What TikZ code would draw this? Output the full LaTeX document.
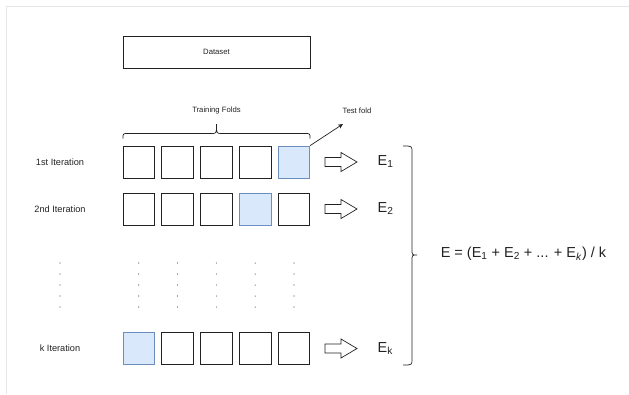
\documentclass[tikz,border=0pt]{standalone}
\usepackage{fontspec}
\setmainfont{Liberation Sans}
\usetikzlibrary{arrows.meta}
\definecolor{foldfill}{HTML}{DAE8FC}
\definecolor{folddraw}{HTML}{6C8EBF}
\definecolor{framegray}{HTML}{E6E6E6}
\definecolor{ink}{HTML}{222222}
\tikzset{
  fold/.style={draw=ink, line width=0.8pt, minimum width=31.5pt, minimum height=32pt, inner sep=0pt, fill=white},
  testfold/.style={fold, draw=folddraw, fill=foldfill},
  smalltxt/.style={font=\fontsize{7.7}{9}\selectfont, inner sep=0pt, text=ink},
  itertxt/.style={font=\fontsize{9.2}{11}\selectfont, inner sep=0pt, text=ink},
  bigtxt/.style={font=\fontsize{14.5}{17}\selectfont, inner sep=0pt, text=ink},
  blockarrow/.style={draw=ink, line width=0.7pt, fill=white, line join=miter},
  bracestyle/.style={draw=ink, line width=0.7pt},
}
\begin{document}
\begin{tikzpicture}[x=1pt,y=-1pt]
\useasboundingbox (0,0) rectangle (629,394);
% frame lines
\draw[framegray, line width=1pt] (6,394) -- (6,6) -- (629,6);
% dataset
\node[draw=ink, line width=0.8pt, minimum width=187pt, minimum height=32pt, inner sep=0pt] (dataset) at (216.5,52) {};
\node[smalltxt] (datasettxt) at (216.5,52) {Dataset};
% labels
\node[smalltxt] (trainlbl) at (216.5,111) {Training Folds};
\node[smalltxt] (testlbl) at (357,111) {Test fold};
\node[itertxt] (it1) at (60,162) {1st Iteration};
\node[itertxt] (it2) at (60,209) {2nd Iteration};
\node[itertxt] (itk) at (60,348.5) {k Iteration};
% folds
\foreach \r/\y/\t in {1/162/5, 2/209/4, k/348.5/1} {
  \foreach \c/\x in {1/138.75, 2/177.55, 3/216.35, 4/255.15, 5/293.95} {
    \ifnum\c=\t
      \node[testfold] (r\r c\c) at (\x,\y) {};
    \else
      \node[fold] (r\r c\c) at (\x,\y) {};
    \fi
  }
  \draw[blockarrow] (325,\y-4.5) -- (341,\y-4.5) -- (341,\y-9.5) -- (357,\y) -- (341,\y+9.5) -- (341,\y+4.5) -- (325,\y+4.5) -- cycle;
}
% E labels
\node[bigtxt, anchor=base west] (e1) at (377.5,165.5) {E\textsubscript{1}};
\node[bigtxt, anchor=base west] (e2) at (377.5,212.5) {E\textsubscript{2}};
\node[bigtxt, anchor=base west] (ek) at (377.5,352) {E\textsubscript{k}};
% formula
\node[bigtxt] (formula) at (523.5,254) {E = (E\textsubscript{1} + E\textsubscript{2} + ... + E\textsubscript{\textit{k}}) / k};
% test fold arrow
\coordinate (testtip) at (343,124);
\draw[ink, line width=0.7pt, -{Stealth[length=5pt,width=4.5pt]}] (r1c5.north east) -- (testtip);
% training brace
\draw[bracestyle] (123,138.5) .. controls (123,133.5) .. (128,133.5) -- (211.5,133.5)
  .. controls (216.5,133.5) .. (216.5,124) .. controls (216.5,133.5) .. (221.5,133.5)
  -- (305,133.5) .. controls (310,133.5) .. (310,138.5);
% right brace
\draw[bracestyle] (403,146) .. controls (412,146) .. (412,152) -- (412,249)
  .. controls (412,255) .. (417,255) .. controls (412,255) .. (412,261)
  -- (412,359) .. controls (412,365) .. (403,365);
% dots
\foreach \x in {60,138.75,177.55,216.35,255.15,293.95} {
  \foreach \y in {263,274,285,296,307} {
    \fill[ink!80] (\x,\y) circle (0.6pt);
  }
}
\end{tikzpicture}
\end{document}
